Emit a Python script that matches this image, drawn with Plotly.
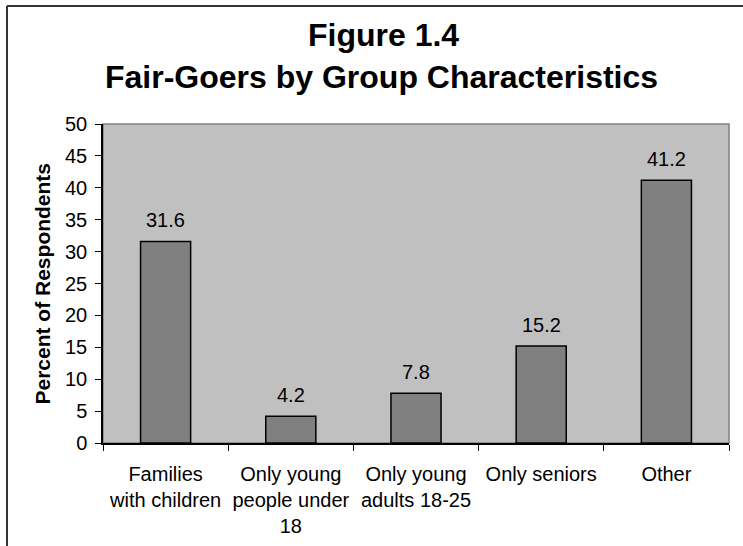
import plotly.graph_objects as go

# Survey results: share of fair-goers by group type
categories = [
    "Families<br>with children",
    "Only young<br>people under<br>18",
    "Only young<br>adults 18-25",
    "Only seniors",
    "Other",
]
percent = [31.6, 4.2, 7.8, 15.2, 41.2]
y_ticks = list(range(0, 55, 5))

W, H = 743, 546
L, R, T, B = 103, 14, 124, 103
pw, ph = W - L - R, H - T - B


def px_x(x):
    return (x - L) / pw


def px_y(y):
    return (H - B - y) / ph


FONT = "Liberation Sans, Arial, sans-serif"

fig = go.Figure(
    go.Bar(
        x=categories,
        y=percent,
        width=0.4,
        marker=dict(color="#808080", line=dict(color="#000000", width=1.5)),
        hoverinfo="x+y",
    )
)

# value labels above each bar
for c, v in zip(categories, percent):
    fig.add_annotation(
        x=c, y=v, xref="x", yref="y", text=f"{v:.1f}", showarrow=False,
        yanchor="bottom", yshift=8, font=dict(family=FONT, size=20, color="#000"),
    )

# two-line chart title
fig.add_annotation(
    x=px_x(383), y=px_y(35), xref="paper", yref="paper", text="<b>Figure 1.4</b>",
    showarrow=False, xanchor="center", yanchor="middle",
    font=dict(family=FONT, size=32, color="#000"),
)
fig.add_annotation(
    x=px_x(381), y=px_y(77), xref="paper", yref="paper",
    text="<b>Fair-Goers by Group Characteristics</b>",
    showarrow=False, xanchor="center", yanchor="middle",
    font=dict(family=FONT, size=32, color="#000"),
)

# vertical axis title
fig.add_annotation(
    x=px_x(42), y=0.5, xref="paper", yref="paper", text="<b>Percent of Respondents</b>",
    showarrow=False, textangle=-90, xanchor="center", yanchor="middle",
    font=dict(family=FONT, size=21, color="#000"),
)

# plot-area border (top/right in grey)
fig.add_shape(type="rect", xref="paper", yref="paper", x0=0, y0=0, x1=1, y1=1,
              line=dict(color="#808080", width=1.5), layer="below")

# outer chart frame (top and left edges)
fig.add_shape(type="line", xref="paper", yref="paper",
              x0=px_x(7), x1=px_x(760), y0=px_y(6), y1=px_y(6),
              line=dict(color="#333333", width=2))
fig.add_shape(type="line", xref="paper", yref="paper",
              x0=px_x(7), x1=px_x(7), y0=px_y(6), y1=px_y(560),
              line=dict(color="#333333", width=2))

fig.update_layout(
    width=W, height=H,
    margin=dict(l=L, r=R, t=T, b=B, pad=0, autoexpand=False),
    paper_bgcolor="#ffffff",
    plot_bgcolor="#c0c0c0",
    showlegend=False,
    font=dict(family=FONT, size=20, color="#000"),
    bargap=0.6,
)
fig.update_xaxes(
    showline=True, linecolor="#000", linewidth=1.5,
    ticks="outside", ticklen=6, tickwidth=1.2, tickcolor="#000",
    tickson="boundaries", showgrid=False, tickangle=0, automargin=False,
    ticklabelstandoff=12,
    tickfont=dict(family=FONT, size=20, color="#000"),
)
fig.update_yaxes(
    range=[0, 50], tickvals=y_ticks, showline=True, linecolor="#000", linewidth=1.5,
    ticks="outside", ticklen=6, tickwidth=1.2, tickcolor="#000",
    showgrid=False, zeroline=False, ticklabelstandoff=4, automargin=False,
    tickfont=dict(family=FONT, size=20, color="#000"),
)

fig.write_html("out.html")
